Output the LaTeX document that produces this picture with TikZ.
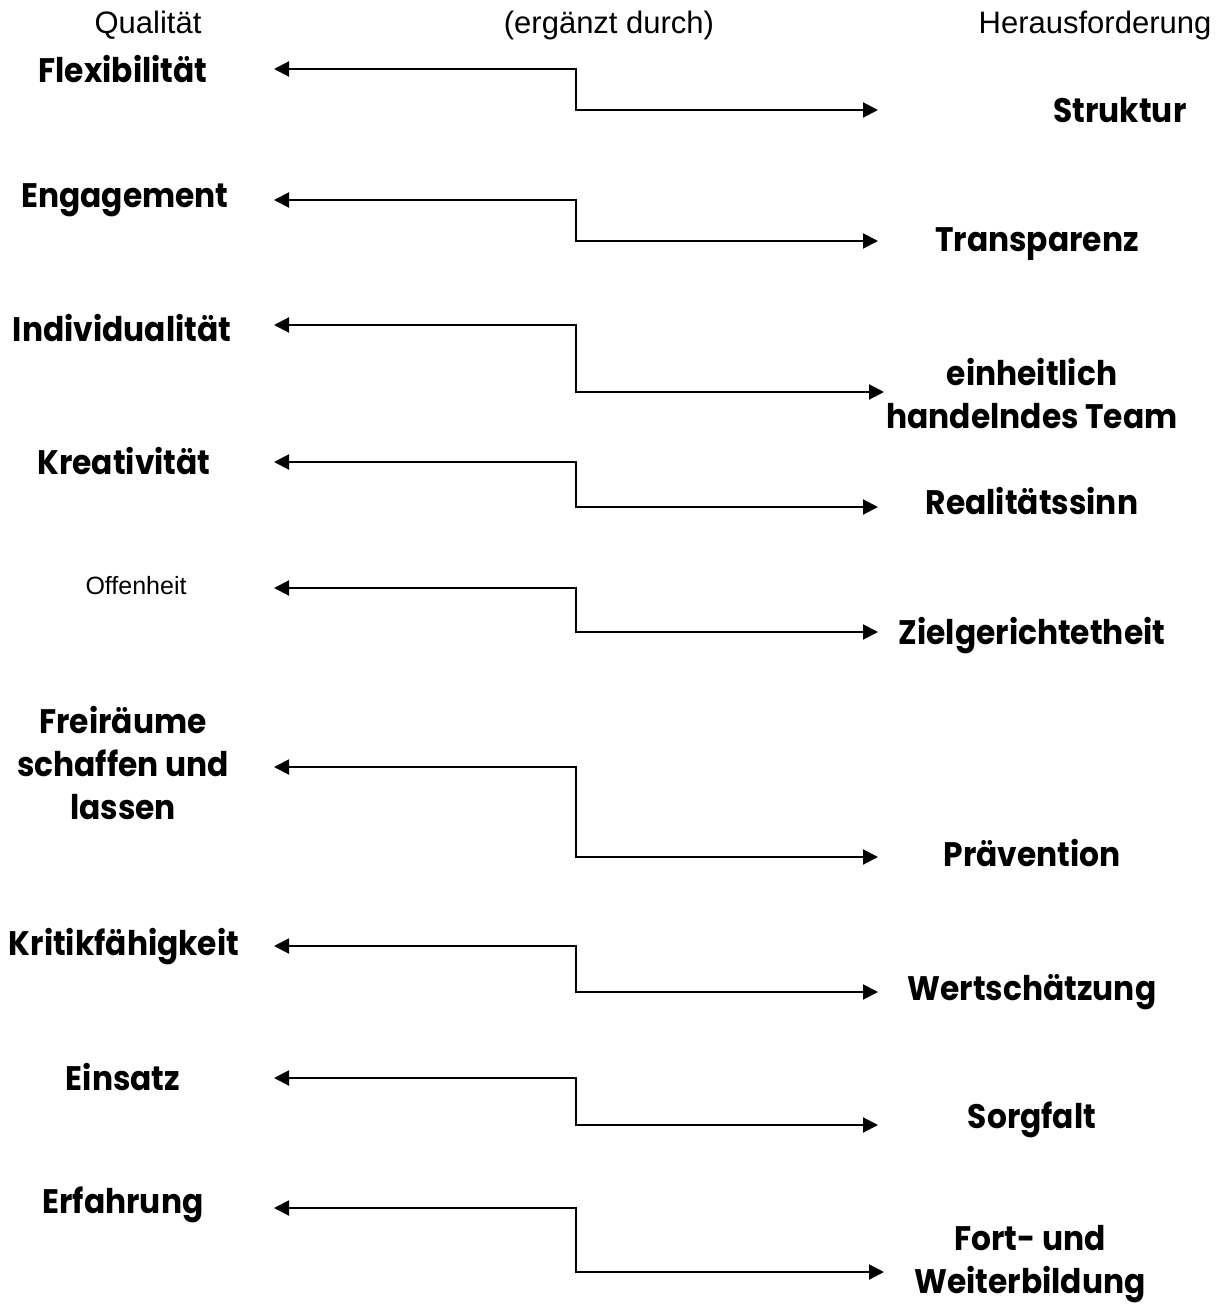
\documentclass[tikz,border=0pt]{standalone}
\usepackage{fontspec}
\usetikzlibrary{arrows.meta}
\newfontfamily\labfont{Poppins}[FakeStretch=0.92]
\newfontfamily\hdrfont{Liberation Sans}
\begin{document}
\begin{tikzpicture}[x=1pt,y=-1pt,
  lab/.style={font=\labfont\bfseries\fontsize{34}{43}\selectfont, align=center, inner sep=0pt},
  hdr/.style={font=\hdrfont\fontsize{31}{36}\selectfont, inner sep=0pt, anchor=base},
  conn/.style={line width=2pt, {Triangle[length=15pt,width=15pt]}-{Triangle[length=15pt,width=15pt]}}]
\useasboundingbox (0,0) rectangle (1224,1309);
% headers
\node[hdr] (hq) at (148,33) {Qualität};
\node[hdr] (he) at (609,33) {(ergänzt durch)};
\node[hdr] (hh) at (1095,33) {Herausforderung};
% left labels
\node[lab] (q1) at (123,69) {Flexibilität};
\node[lab] (q2) at (125,200) {Engagement};
\node[lab] (q3) at (122,328) {Individualität};
\node[lab] (q4) at (124,461) {Kreativität};
\node[hdr, font=\hdrfont\fontsize{25}{30}\selectfont, anchor=center] (q5) at (136,586) {Offenheit};
\node[lab] (q6) at (123,763) {Freiräume\\schaffen und\\lassen};
\node[lab] (q7) at (124,947) {Kritikfähigkeit};
\node[lab] (q8) at (123,1077) {Einsatz};
\node[lab] (q9) at (123,1205) {Erfahrung};
% right labels
\node[lab] (r1) at (1120,110) {Struktur};
\node[lab] (r2) at (1037,244) {Transparenz};
\node[lab] (r3) at (1032,394) {einheitlich\\handelndes Team};
\node[lab] (r4) at (1032,501) {Realitätssinn};
\node[lab] (r5) at (1032,636) {Zielgerichtetheit};
\node[lab] (r6) at (1032,853) {Prävention};
\node[lab] (r7) at (1032,992) {Wertschätzung};
\node[lab] (r8) at (1032,1120) {Sorgfalt};
\node[lab] (r9) at (1030,1264) {Fort- und\\Weiterbildung};
% connector ends and corners
\foreach \i/\ya/\yb/\xr in {1/69/110/878, 2/200/241/878, 3/325/392/884, 4/462/507/878, 5/588/632/878, 6/767/857/878, 7/946/992/878, 8/1078/1125/878, 9/1208/1272/884}{
  \coordinate (la\i) at (274,\ya);
  \coordinate (ta\i) at (576,\ya);
  \coordinate (tb\i) at (576,\yb);
  \coordinate (rb\i) at (\xr,\yb);
  \draw[conn] (la\i) -- (ta\i) -- (tb\i) -- (rb\i);
}
\end{tikzpicture}
\end{document}
